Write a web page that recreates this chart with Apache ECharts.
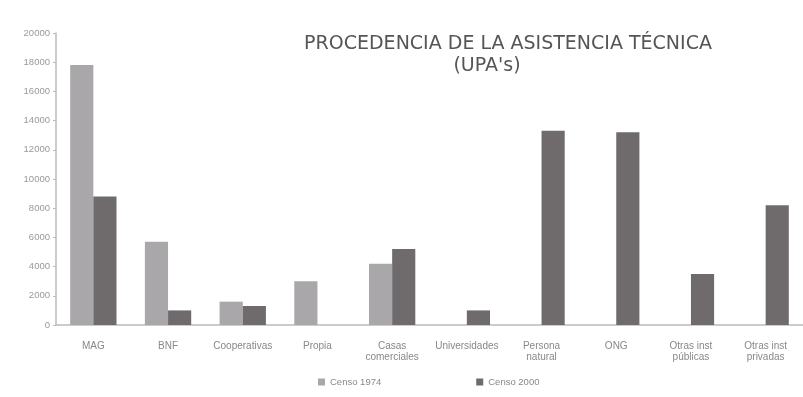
<!DOCTYPE html>
<html><head><meta charset="utf-8">
<script src="https://cdn.jsdelivr.net/npm/echarts@6/dist/echarts.min.js"></script>
<style>html,body{margin:0;padding:0;background:#fff}#c{width:803px;height:397px}</style>
</head><body><div id="c"></div>
<script>
const categories = ['MAG','BNF','Cooperativas','Propia','Casas\ncomerciales','Universidades','Persona\nnatural','ONG','Otras inst\npúblicas','Otras inst\nprivadas'];
const censo1974 = [17800, 5700, 1600, 3000, 4200, null, null, null, null, null];
const censo2000 = [8800, 1000, 1300, null, 5200, 1000, 13300, 13200, 3500, 8200];
const yTicks = [0, 2000, 4000, 6000, 8000, 10000, 12000, 14000, 16000, 18000, 20000];

const chart = echarts.init(document.getElementById('c'), null, {renderer:'canvas'});
const titleFont = {fontFamily:'DejaVu Sans, sans-serif', fontSize:19, fontWeight:'normal', color:'#555'};
chart.setOption({
  backgroundColor:'#fff',
  animation:false,
  title:[
    {text:'PROCEDENCIA DE LA ASISTENCIA TÉCNICA', left:503, top:30, textAlign:'center', textStyle:titleFont},
    {text:'(UPA\'s)', left:482, top:52, textAlign:'center', textStyle:titleFont}
  ],
  legend:{
    bottom:5, left:313, itemGap:95, itemWidth:7, itemHeight:7, icon:'rect',
    textStyle:{fontSize:9.5, color:'#888', fontFamily:'Liberation Sans, sans-serif'},
    data:['Censo 1974','Censo 2000']
  },
  grid:{left:56, top:33, width:748, height:292, containLabel:false},
  xAxis:{
    type:'category', data:categories,
    axisLine:{lineStyle:{color:'#bbb', width:1.5}},
    axisTick:{show:false},
    axisLabel:{interval:0, fontSize:10, color:'#888', lineHeight:11, margin:16, fontFamily:'Liberation Sans, sans-serif'}
  },
  yAxis:{
    type:'value', min:0, max:20000, interval:2000,
    axisLine:{show:true, lineStyle:{color:'#bbb', width:1.5}},
    axisTick:{show:true, length:3, lineStyle:{color:'#bbb'}},
    splitLine:{show:false},
    axisLabel:{fontSize:9.5, color:'#999', margin:6, fontFamily:'Liberation Sans, sans-serif',
      formatter: v => yTicks.includes(v) ? String(v) : ''}
  },
  series:[
    {name:'Censo 1974', type:'bar', data:censo1974, barGap:'0%', barCategoryGap:'38%', itemStyle:{color:'#a9a7a9'}},
    {name:'Censo 2000', type:'bar', data:censo2000, itemStyle:{color:'#6f6b6d'}}
  ]
});
</script></body></html>
